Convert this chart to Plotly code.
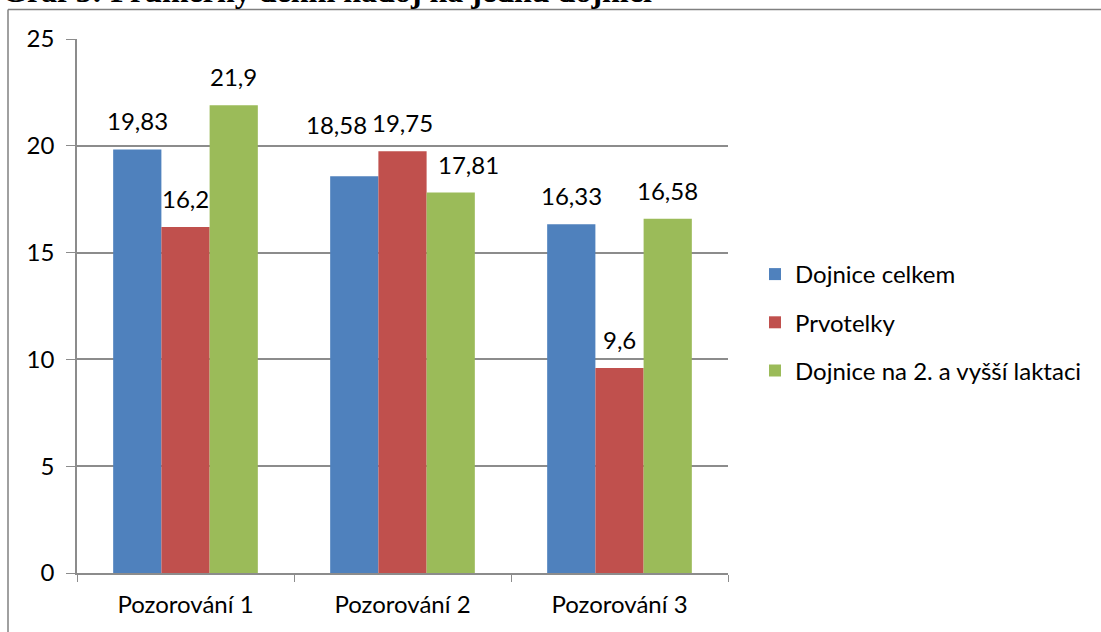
import plotly.graph_objects as go

categories = ["Pozorování 1", "Pozorování 2", "Pozorování 3"]
series_names = ["Dojnice celkem", "Prvotelky", "Dojnice na 2. a vyšší laktaci"]
dojnice_celkem = [19.83, 18.58, 16.33]
prvotelky = [16.2, 19.75, 9.6]
dojnice_2_laktace = [21.9, 17.81, 16.58]
y_ticks = [0, 5, 10, 15, 20, 25]
title_text = "Graf 3: Průměrný denní nádoj na jednu dojnici"

series_values = [dojnice_celkem, prvotelky, dojnice_2_laktace]
colors = ["#4F81BD", "#C0504D", "#9BBB59"]

# style: per-label nudges in pixels (series index, category index) -> (dx, dy)
label_nudge = {(0, 1): (-18, 23), (2, 1): (18, 0)}

FONT = "Lato"
FS = 24
GRID = "#8C8C8C"

W, H = 1101, 632
L, R, T, B = 77, 1101 - 728, 39, 632 - 573
pw, ph = W - L - R, H - T - B

def px_to_paper_x(px):
    return (px - L) / pw

def px_to_paper_y(py):
    return (H - B - py) / ph

fig = go.Figure()
for i, (name, vals) in enumerate(zip(series_names, series_values)):
    fig.add_trace(go.Bar(
        x=categories, y=vals, name=name,
        marker=dict(color=colors[i], line=dict(width=0)),
        legendgroup=f"g{i}", hoverinfo="skip",
    ))

bar_px = pw / len(categories) * (1 - 1 / 3) / len(series_names)
annotations = []
for i, vals in enumerate(series_values):
    for j, v in enumerate(vals):
        dx, dy = label_nudge.get((i, j), (0, 0))
        annotations.append(dict(
            x=categories[j], y=v, xref="x", yref="y",
            text=f"{v:g}".replace(".", ","),
            showarrow=False, yanchor="bottom", xanchor="center",
            xshift=(i - 1) * bar_px + dx, yshift=12 + dy,
            font=dict(family=FONT, size=FS, color="#000000"),
        ))

annotations.append(dict(
    x=px_to_paper_x(0), y=px_to_paper_y(-9), xref="paper", yref="paper",
    text=f"<b>{title_text}</b>", showarrow=False,
    xanchor="left", yanchor="middle",
    font=dict(family="Liberation Serif", size=32, color="#000000"),
))

shapes = [
    dict(type="line", xref="paper", yref="paper",
         x0=px_to_paper_x(8), x1=px_to_paper_x(1101), y0=px_to_paper_y(9.5), y1=px_to_paper_y(9.5),
         line=dict(color="#808080", width=1.5)),
    dict(type="line", xref="paper", yref="paper",
         x0=px_to_paper_x(8), x1=px_to_paper_x(8), y0=px_to_paper_y(9.5), y1=px_to_paper_y(640),
         line=dict(color="#808080", width=1.5)),
]

fig.update_layout(
    width=W, height=H,
    margin=dict(l=L, r=R, t=T, b=B, pad=0),
    paper_bgcolor="white", plot_bgcolor="white",
    barmode="group", bargap=1 / 3, bargroupgap=0,
    font=dict(family=FONT, size=FS, color="#000000"),
    showlegend=True,
    legend=dict(
        x=px_to_paper_x(755), y=px_to_paper_y(252), xanchor="left", yanchor="top",
        font=dict(family=FONT, size=FS, color="#000000"),
        tracegroupgap=14, bgcolor="rgba(0,0,0,0)",
    ),
    annotations=annotations,
    shapes=shapes,
)
fig.update_xaxes(
    type="category", tickson="boundaries", ticks="outside", ticklen=7,
    tickcolor=GRID, showline=True, linecolor=GRID, linewidth=1.5,
    showgrid=False, ticklabelstandoff=9,
    tickfont=dict(family=FONT, size=FS, color="#000000"),
)
fig.update_yaxes(
    range=[0, 25], tickvals=y_ticks, ticktext=[str(t) for t in y_ticks],
    ticks="outside", ticklen=9, tickcolor=GRID,
    showline=True, linecolor=GRID, linewidth=1.5,
    showgrid=True, gridcolor=GRID, gridwidth=1.5, zeroline=False,
    ticklabelstandoff=7,
    tickfont=dict(family=FONT, size=FS, color="#000000"),
)

fig.write_html("out.html")
